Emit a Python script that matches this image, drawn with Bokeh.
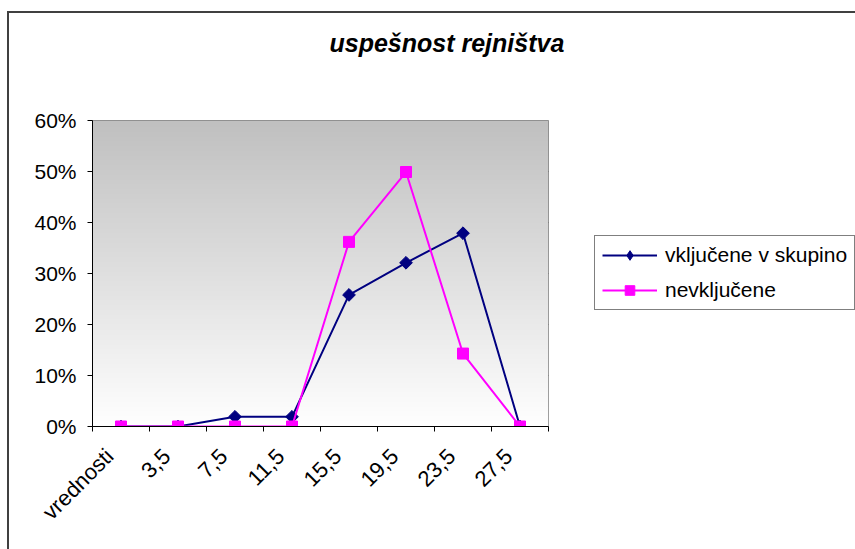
import numpy as np
from math import pi
from bokeh.plotting import figure
from bokeh.models import (Range1d, FixedTicker, NumeralTickFormatter, Legend,
                          LegendItem)
from bokeh.embed import file_html
from bokeh.resources import INLINE

# ---- data ----
categories = ["vrednosti", "3,5", "7,5", "11,5", "15,5", "19,5", "23,5", "27,5"]
vkljucene = [0.0, 0.0, 0.019, 0.019, 0.258, 0.321, 0.379, 0.0]
nevkljucene = [0.0, 0.0, 0.0, 0.0, 0.362, 0.499, 0.143, 0.0]
y_ticks = [0.0, 0.1, 0.2, 0.3, 0.4, 0.5, 0.6]
series_names = ["vključene v skupino", "nevključene"]
title_text = "uspešnost rejništva"

FONT = "Liberation Sans"
n_cat = len(categories)
xs = [i + 0.5 for i in range(n_cat)]
label_shift = 0.2  # rotated labels sit slightly left of the category centre
label_pos = [x - label_shift for x in xs]

p = figure(frame_width=456, frame_height=306, output_backend="svg",
           toolbar_location=None,
           x_range=Range1d(0, n_cat), y_range=Range1d(y_ticks[0], y_ticks[-1]),
           min_border_left=83, min_border_right=0, min_border_top=107,
           min_border_bottom=123)
p.margin = (11, 0, 0, 7)
p.styles = {"border-left": "2px solid #404040", "border-top": "2px solid #404040"}
p.background_fill_color = "white"
p.border_fill_color = "white"
p.outline_line_color = "#808080"
p.outline_line_width = 1

# title
p.title.text = title_text
p.title.text_font = FONT
p.title.text_font_style = "bold italic"
p.title.text_font_size = "25px"
p.title.text_color = "black"
p.title.align = "left"
p.title.offset = 237
p.title.standoff = 0
p.title.padding = (0, 0, 0, 64)

# gradient background of plot area
n = 256
g = np.linspace(255, 192, n).astype(np.uint8)
img = np.empty((n, 2), dtype=np.uint32)
view = img.view(dtype=np.uint8).reshape((n, 2, 4))
for c in range(3):
    view[:, :, c] = g[:, None]
view[:, :, 3] = 255
p.image_rgba(image=[img], x=0, y=y_ticks[0], dw=n_cat, dh=y_ticks[-1] - y_ticks[0])

# grid
p.xgrid.grid_line_color = None
p.ygrid.ticker = FixedTicker(ticks=y_ticks)
p.ygrid.grid_line_color = "#222222"
p.ygrid.grid_line_width = 1

# y axis
p.yaxis.ticker = FixedTicker(ticks=y_ticks)
p.yaxis.formatter = NumeralTickFormatter(format="0%")
p.yaxis.axis_line_color = "black"
p.yaxis.major_tick_line_color = "black"
p.yaxis.major_tick_out = 5
p.yaxis.major_tick_in = 0
p.yaxis.minor_tick_line_color = None
p.yaxis.major_label_standoff = 11
p.yaxis.major_label_text_font = FONT
p.yaxis.major_label_text_font_size = "21px"
p.yaxis.major_label_text_color = "black"

# x axis
p.xaxis.ticker = FixedTicker(ticks=label_pos, minor_ticks=list(range(n_cat + 1)))
p.xaxis.major_label_overrides = {x: c for x, c in zip(label_pos, categories)}
p.xaxis.major_label_orientation = pi / 4
p.xaxis.major_tick_line_color = None
p.xaxis.major_tick_out = 0
p.xaxis.major_tick_in = 0
p.xaxis.minor_tick_line_color = "black"
p.xaxis.minor_tick_out = 5
p.xaxis.minor_tick_in = 0
p.xaxis.axis_line_color = "black"
p.xaxis.major_label_standoff = 21
p.xaxis.major_label_text_font = FONT
p.xaxis.major_label_text_font_size = "22px"
p.xaxis.major_label_text_color = "black"

# series
l1 = p.line(xs, vkljucene, line_color="#000080", line_width=2)
s1 = p.scatter(xs, vkljucene, marker="square", angle=pi / 4, size=9,
               fill_color="#000080", line_color="#000080")
l2 = p.line(xs, nevkljucene, line_color="#FF00FF", line_width=2)
s2 = p.scatter(xs, nevkljucene, marker="square", size=11,
               fill_color="#FF00FF", line_color="#FF00FF")
# legend-only diamond (no data point of its own)
k1 = p.scatter([float("nan")], [float("nan")], marker="diamond",
               fill_color="#000080", line_color="#000080")

legend = Legend(items=[LegendItem(label=series_names[0], renderers=[l1, k1]),
                       LegendItem(label=series_names[1], renderers=[l2, s2])],
                location=(46, 116), orientation="vertical",
                border_line_color="black", border_line_width=1,
                background_fill_color="white", background_fill_alpha=1,
                padding=7, spacing=11, margin=0,
                glyph_width=55, glyph_height=24, label_height=24,
                label_standoff=8, label_text_font=FONT,
                label_text_font_size="21px", label_text_color="black")
p.add_layout(legend, "right")

open("out.html", "w").write(file_html(p, INLINE))
